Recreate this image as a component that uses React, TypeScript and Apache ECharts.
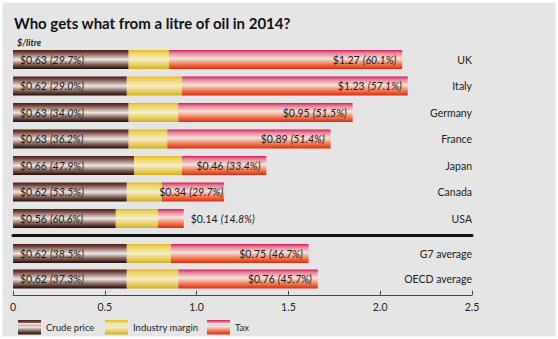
import React, { useEffect, useRef } from 'react';
import * as echarts from 'echarts';

const categories = ['UK', 'Italy', 'Germany', 'France', 'Japan', 'Canada', 'USA', 'G7 average', 'OECD average'];
const crudePrice = [0.63, 0.62, 0.63, 0.63, 0.66, 0.62, 0.56, 0.62, 0.62];
const industryMargin = [0.22, 0.3, 0.27, 0.21, 0.26, 0.19, 0.23, 0.24, 0.28];
const tax = [1.27, 1.23, 0.95, 0.89, 0.46, 0.34, 0.14, 0.75, 0.76];
const crudeShare = [29.7, 29.0, 34.0, 36.2, 47.9, 53.5, 60.6, 38.5, 37.3];
const taxShare = [60.1, 57.1, 51.5, 51.4, 33.4, 29.7, 14.8, 46.7, 45.7];
const seriesNames = ['Crude price', 'Industry margin', 'Tax'];
const countryCount = 7;

const FONT = 'Lato';

function grad(stops: [number, string][]) {
  return new echarts.graphic.LinearGradient(0, 0, 0, 1, stops.map(([offset, color]) => ({ offset, color })));
}

export default function App() {
  const ref = useRef<HTMLDivElement>(null);
  useEffect(() => {
    document.body.style.margin = '0';
    const chart = echarts.init(ref.current!, undefined, { renderer: 'svg' });

    const crudeColor = grad([
      [0, '#4a1c12'], [0.12, '#6e4038'], [0.5, '#f0e6e2'], [0.78, '#7a5a52'], [1, '#240a04'],
    ]);
    const marginColor = grad([
      [0, '#e2b820'], [0.14, '#ecd262'], [0.5, '#f5eec6'], [0.8, '#e6cc5e'], [1, '#d4ae1c'],
    ]);
    const taxColor = grad([
      [0, '#d41858'], [0.14, '#e67a92'], [0.45, '#f5e2da'], [0.75, '#ee7a52'], [1, '#e02a0e'],
    ]);

    const groups = [
      { from: 0, to: countryCount },
      { from: countryCount, to: categories.length },
    ];

    const rich = {
      v: { fontFamily: FONT, fontSize: 10.5, color: '#1a1a1a' },
      p: { fontFamily: FONT, fontSize: 10.5, fontStyle: 'italic', color: '#1a1a1a' },
    };
    const fmt = (val: number, share: number) => `{v|$${val.toFixed(2)}} {p|(${share.toFixed(1)}%)}`;

    const series: any[] = [];
    groups.forEach((g, gi) => {
      const idx = categories.slice(g.from, g.to).map((_, i) => g.from + i);
      series.push({
        name: seriesNames[0], type: 'bar', stack: 's' + gi, xAxisIndex: gi, yAxisIndex: gi,
        barWidth: 19, itemStyle: { color: crudeColor },
        data: idx.map((i) => crudePrice[i]),
        label: {
          show: true, position: 'insideLeft', distance: 7, rich,
          formatter: (p: any) => fmt(crudePrice[idx[p.dataIndex]], crudeShare[idx[p.dataIndex]]),
        },
      });
      series.push({
        name: seriesNames[1], type: 'bar', stack: 's' + gi, xAxisIndex: gi, yAxisIndex: gi,
        barWidth: 19, itemStyle: { color: marginColor },
        data: idx.map((i) => industryMargin[i]),
      });
      series.push({
        name: seriesNames[2], type: 'bar', stack: 's' + gi, xAxisIndex: gi, yAxisIndex: gi,
        barWidth: 19, itemStyle: { color: taxColor },
        data: idx.map((i) => {
          const item: any = { value: tax[i] };
          if (tax[i] < 0.2) item.label = { position: 'right', distance: 7 };
          else if (tax[i] < 0.4) item.label = { distance: 1 };
          return item;
        }),
        label: {
          show: true, position: 'insideRight', distance: 6, rich,
          formatter: (p: any) => fmt(tax[idx[p.dataIndex]], taxShare[idx[p.dataIndex]]),
        },
      });
    });

    const legendLefts = [13, 100, 202];
    const legend = seriesNames.map((name, i) => ({
      left: legendLefts[i], top: 315, itemWidth: 23, itemHeight: 15,
      icon: 'path://M0,0h24v3h-24z M0,5h24v10h-24z',
      data: [name],
      textStyle: { fontFamily: FONT, fontSize: 9.5, color: '#222' },
    }));

    const option: any = {
      animation: false,
      backgroundColor: '#e5e5e5',
      textStyle: { fontFamily: FONT },
      graphic: [
        {
          type: 'rect', z: -100, silent: true,
          shape: { x: 1, y: 1, width: 556, height: 337 },
          style: { fill: 'none', stroke: '#ffffff', lineWidth: 3 },
        },
      ],
      title: [
        {
          text: 'Who gets what from a litre of oil in 2014?', left: 9, top: 10,
          textStyle: { fontFamily: FONT, fontSize: 15, fontWeight: 'bold', color: '#111' },
        },
        {
          text: '$/litre', left: 12, top: 33,
          textStyle: { fontFamily: FONT, fontSize: 9, fontWeight: 'bold', fontStyle: 'italic', color: '#222' },
        },
      ],
      legend,
      grid: [
        { left: 13, right: 86, top: 46.25, height: 185.5 },
        { left: 13, right: 86, top: 240.75, height: 51 },
      ],
      xAxis: [
        {
          gridIndex: 0, type: 'value', min: 0, max: 2.5, interval: 0.5, offset: 3,
          axisLine: { show: true, lineStyle: { color: '#111', width: 3 } },
          axisTick: { show: false }, axisLabel: { show: false }, splitLine: { show: false },
        },
        {
          gridIndex: 1, type: 'value', min: 0, max: 2.5, interval: 0.5, offset: 3,
          axisLine: { show: true, lineStyle: { color: '#444', width: 1.2 } },
          axisTick: { show: true, inside: true, length: 4, lineStyle: { color: '#444' } },
          axisLabel: {
            margin: 7, fontFamily: FONT, fontSize: 10.5, color: '#222',
            formatter: (v: number) => (v === 0 ? '0' : v.toFixed(1)),
          },
          splitLine: { show: false },
        },
      ],
      yAxis: groups.map((g, gi) => ({
        gridIndex: gi, type: 'category', inverse: true, position: 'right',
        data: categories.slice(g.from, g.to),
        axisLine: { show: false }, axisTick: { show: false },
        axisLabel: { inside: true, margin: 0, fontFamily: FONT, fontSize: 10.5, color: '#222' },
      })),
      series,
    };
    chart.setOption(option);
    return () => chart.dispose();
  }, []);
  return <div ref={ref} style={{ width: 558, height: 339 }} />;
}
